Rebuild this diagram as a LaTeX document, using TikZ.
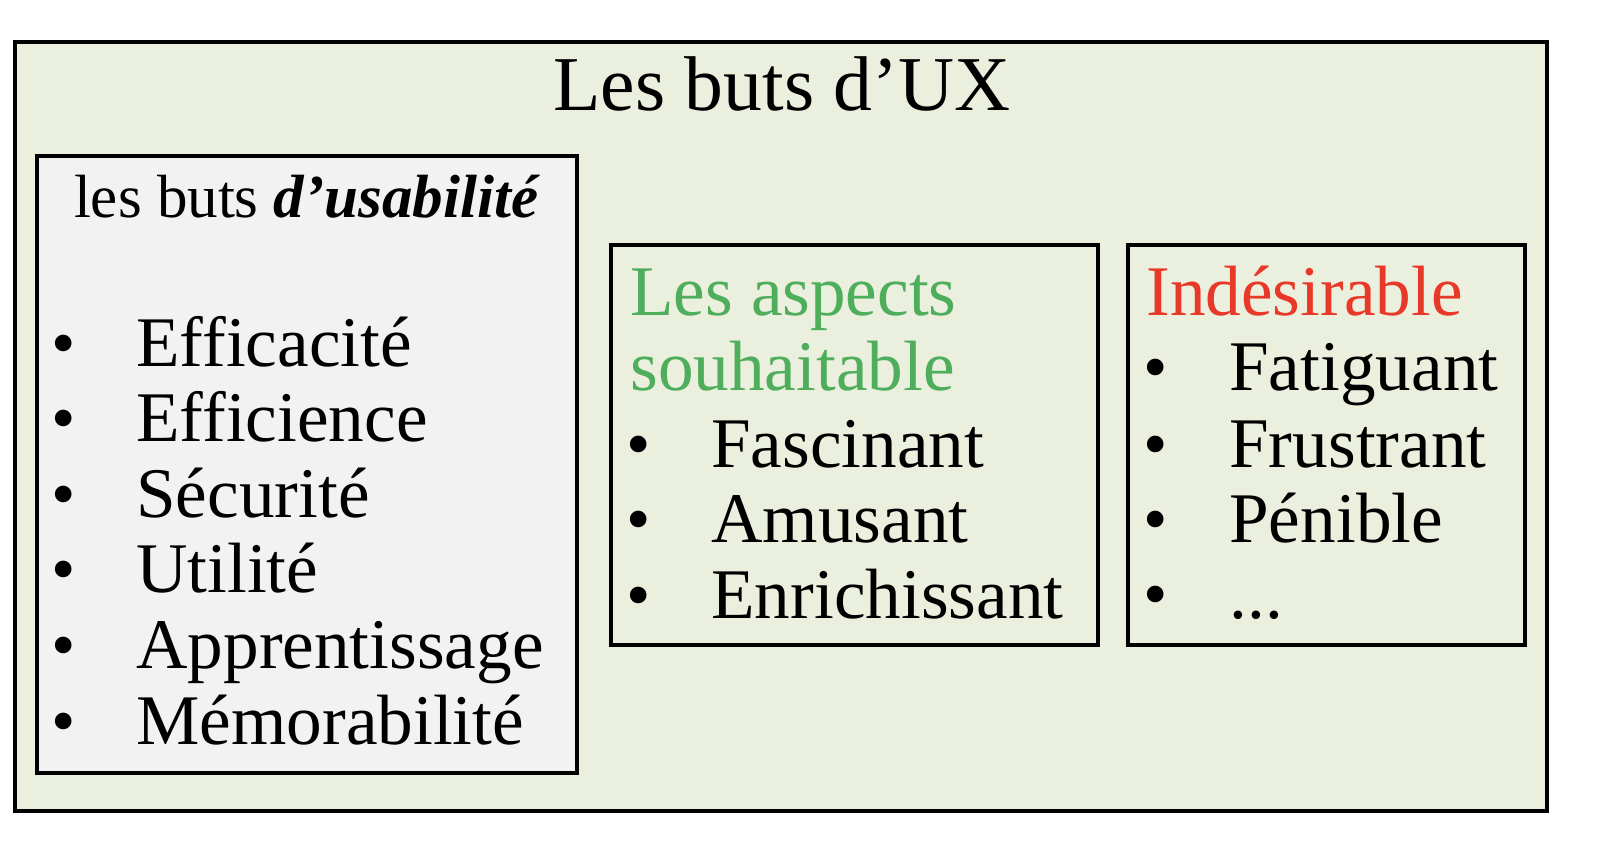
\documentclass[tikz,border=0pt]{standalone}
\usepackage{fontspec}
\setmainfont{Liberation Serif}
\definecolor{outerfill}{RGB}{235,239,222}
\definecolor{leftfill}{RGB}{242,242,242}
\definecolor{goodgreen}{RGB}{78,174,92}
\definecolor{badred}{RGB}{232,56,40}
\tikzset{
  frame/.style={draw=black, line width=2pt},
  txt/.style={anchor=base west, inner sep=0pt, font=\fontsize{35.6}{40}\selectfont},
  bul/.style={anchor=base, inner sep=0pt, font=\fontsize{34.8}{40}\selectfont},
}
\begin{document}
\begin{tikzpicture}[x=0.5pt,y=-0.5pt]
\useasboundingbox (0,0) rectangle (1602,852);
% outer box
\draw[frame, fill=outerfill] (15,42) rectangle (1547,811);
\node[anchor=base, inner sep=0pt, font=\fontsize{38.8}{44}\selectfont] (title) at (782,110) {Les buts d’UX};
% left box
\draw[frame, fill=leftfill] (37,156) rectangle (577,773);
\node[anchor=base, inner sep=0pt, font=\fontsize{30.5}{36}\selectfont] (ustitle) at (307,217) {les buts \textbf{\textit{d’usabilité}}};
\foreach \t [count=\i] in {Efficacité,Efficience,Sécurité,Utilité,Apprentissage,Mémorabilité}{
  \node[bul] (ub\i) at (64,{366+75.6*(\i-1)}) {•};
  \node[txt] (ut\i) at (136,{366+75.6*(\i-1)}) {\t};
}
% middle box
\draw[frame] (611,245) rectangle (1098,645);
\node[txt, text=goodgreen] (g1) at (630,315) {Les aspects};
\node[txt, text=goodgreen] (g2) at (630,390) {souhaitable};
\foreach \t/\y [count=\i] in {Fascinant/467,Amusant/542,Enrichissant/618}{
  \node[bul] (mb\i) at (639,\y) {•};
  \node[txt] (mt\i) at (711,\y) {\t};
}
% right box
\draw[frame] (1128,245) rectangle (1525,645);
\node[txt, text=badred] (r1) at (1146,315) {Indésirable};
\foreach \t/\y [count=\i] in {Fatiguant/390,Frustrant/467,Pénible/542}{
  \node[bul] (rb\i) at (1156,\y) {•};
  \node[txt] (rt\i) at (1229,\y) {\t};
}
\node[bul] (rb4) at (1156,617) {•};
\node[txt] (rt4) at (1229,618) {...};
\end{tikzpicture}
\end{document}
